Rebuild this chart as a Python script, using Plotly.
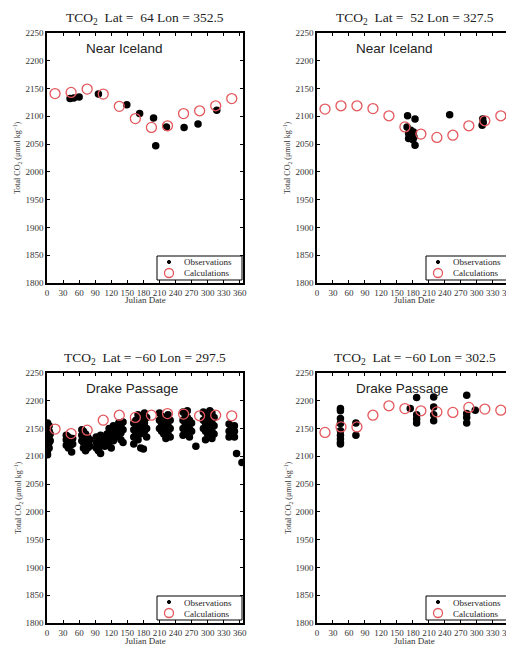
import plotly.graph_objects as go

W, H = 514, 645

# ---------------- data ----------------
calc_days = [15, 45, 75, 105, 135, 165, 195, 225, 255, 285, 315, 345]

# Panel 1: Lat 64 Lon 352.5 (Near Iceland)
calc_p1 = [2141, 2143, 2149, 2140, 2118, 2096, 2080, 2083, 2105, 2110, 2119, 2132]
obs_days_p1 = [43, 50, 60, 96, 149, 173, 199, 203, 223, 256, 282, 317]
obs_p1 = [2132, 2133, 2135, 2140, 2121, 2105, 2097, 2047, 2081, 2080, 2086, 2111]

# Panel 2: Lat 52 Lon 327.5 (Near Iceland)
calc_p2 = [2113, 2119, 2119, 2114, 2101, 2081, 2068, 2062, 2066, 2083, 2092, 2101]
obs_days_p2 = [170, 184, 169, 172, 172, 176, 181, 182, 184, 178, 180, 249, 311, 310, 312]
obs_p2 = [2101, 2095, 2081, 2069, 2060, 2075, 2072, 2063, 2048, 2066, 2058, 2103, 2095, 2084, 2089]

# Panel 3: Lat -60 Lon 297.5 (Drake Passage)
calc_p3 = [2149, 2141, 2147, 2165, 2174, 2170, 2174, 2177, 2176, 2173, 2174, 2173]
obs_days_p3 = [
    1, 1, 1, 1, 1, 1, 1, 4, 4, 4, 4, 4, 6, 6,
    36, 36, 36, 40, 40, 40, 44, 44, 46, 48, 48,
    65, 65, 65, 68, 68, 68, 68, 72, 72, 72, 72, 76, 76, 76, 80, 80,
    92, 92, 92, 96, 96, 96, 100, 100, 100, 100, 104, 104, 108, 108,
    112, 112, 112, 116, 116, 116, 120, 120, 120, 124, 124, 124, 128, 128,
    134, 134, 134, 138, 138, 138, 142, 142, 142,
    162, 162, 162, 162, 166, 166, 166, 170, 170, 170, 170, 174, 174, 174, 175,
    178, 178, 180, 182, 182, 182, 186, 186, 186,
    210, 210, 210, 214, 214, 214, 218, 218, 218, 222, 222, 222, 226, 226, 226, 230, 230, 230,
    254, 254, 254, 254, 258, 258, 258, 262, 262, 262, 262, 266, 266, 266, 270, 270, 278,
    292, 292, 292, 296, 296, 296, 296, 300, 300, 300, 304, 304, 304, 308, 308, 308, 308,
    312, 312, 312,
    340, 340, 340, 344, 344, 350, 350, 350, 354, 364,
]
obs_p3 = [
    2160, 2150, 2140, 2130, 2120, 2110, 2103, 2155, 2145, 2135, 2125, 2115, 2140, 2128,
    2138, 2130, 2120, 2135, 2125, 2115, 2130, 2120, 2108, 2132, 2122,
    2148, 2138, 2128, 2145, 2135, 2125, 2115, 2140, 2130, 2120, 2110, 2135, 2125, 2115, 2130, 2118,
    2135, 2125, 2115, 2130, 2120, 2110, 2138, 2128, 2118, 2105, 2132, 2122, 2128, 2118,
    2140, 2130, 2120, 2150, 2135, 2125, 2145, 2132, 2115, 2155, 2140, 2128, 2148, 2135,
    2160, 2150, 2138, 2155, 2142, 2130, 2162, 2148, 2125,
    2160, 2148, 2135, 2122, 2165, 2150, 2140, 2175, 2160, 2145, 2130, 2170, 2155, 2140, 2115,
    2165, 2150, 2113, 2178, 2160, 2145, 2170, 2150, 2135,
    2178, 2165, 2150, 2172, 2158, 2145, 2168, 2152, 2140, 2160, 2145, 2132, 2175, 2155, 2140, 2165, 2150, 2135,
    2180, 2165, 2150, 2138, 2175, 2160, 2145, 2182, 2170, 2155, 2140, 2165, 2150, 2135, 2160, 2145, 2118,
    2180, 2165, 2150, 2175, 2160, 2145, 2130, 2170, 2155, 2140, 2182, 2165, 2150, 2178, 2160, 2145, 2132,
    2170, 2155, 2140,
    2158, 2145, 2135, 2150, 2140, 2155, 2145, 2135, 2105, 2089,
]

# Panel 4: Lat -60 Lon 302.5 (Drake Passage)
calc_p4 = [2143, 2153, 2153, 2174, 2191, 2186, 2182, 2180, 2179, 2188, 2185, 2183]
obs_days_p4 = [44, 44, 44, 44, 44, 44, 44, 44, 44, 73, 73,
               175, 187, 187, 187, 187, 219, 219, 219, 219, 281, 281, 281, 281, 297]
obs_p4 = [2186, 2182, 2168, 2159, 2146, 2138, 2131, 2125, 2122, 2160, 2138,
          2186, 2206, 2175, 2167, 2160, 2207, 2189, 2175, 2164, 2210, 2177, 2170, 2160, 2183]

titles = [
    "TCO<sub>2</sub>\u00a0\u00a0Lat =\u00a0\u00a064 Lon = 352.5",
    "TCO<sub>2</sub>\u00a0\u00a0Lat =\u00a0\u00a052 Lon = 327.5",
    "TCO<sub>2</sub>\u00a0\u00a0Lat = \u221260 Lon = 297.5",
    "TCO<sub>2</sub>\u00a0\u00a0Lat = \u221260 Lon = 302.5",
]
region_labels = ["Near Iceland", "Near Iceland", "Drake Passage", "Drake Passage"]
legend_labels = ["Observations", "Calculations"]
x_ticks = list(range(0, 361, 30))
y_ticks = list(range(1800, 2251, 50))

panels = [
    (obs_days_p1, obs_p1, calc_p1),
    (obs_days_p2, obs_p2, calc_p2),
    (obs_days_p3, obs_p3, calc_p3),
    (obs_days_p4, obs_p4, calc_p4),
]

# ---------------- layout geometry (pixels in the window) ----------------
boxes = [  # left, right, top, bottom
    (47, 243, 33, 283),
    (317, 512, 33, 283),
    (47, 243, 373, 623),
    (317, 512, 373, 623),
]
OFF = 8  # page body margin


def px(x):
    return (x - OFF) / W


def py(y):
    return 1 - (y - OFF) / H


SERIF = "Liberation Serif, Times New Roman, serif"
SANS = "Liberation Sans, Arial, sans-serif"
RED = "#e4575c"

fig = go.Figure()
layout = dict(width=W, height=H, margin=dict(l=0, r=0, t=0, b=0),
              paper_bgcolor="white", plot_bgcolor="white", showlegend=False)
annotations = []
shapes = []


def ann(text, x, y, size, family=SERIF, xanchor="center", angle=0, color="#222"):
    annotations.append(dict(text=text, x=px(x), y=py(y), xref="paper", yref="paper",
                            xanchor=xanchor, yanchor="middle", textangle=angle,
                            showarrow=False, font=dict(family=family, size=size, color=color)))


for i, ((od, ov, cv), (l, r, t, b)) in enumerate(zip(panels, boxes)):
    n = "" if i == 0 else str(i + 1)
    xa, ya = "x" + n, "y" + n
    fig.add_trace(go.Scatter(x=od, y=ov, mode="markers", xaxis=xa, yaxis=ya,
                             name=legend_labels[0],
                             marker=dict(color="black", size=7.5), hoverinfo="skip"))
    fig.add_trace(go.Scatter(x=calc_days, y=cv, mode="markers", xaxis=xa, yaxis=ya,
                             name=legend_labels[1],
                             marker=dict(symbol="circle-open", color=RED, size=10,
                                         line=dict(width=1.3, color=RED)),
                             hoverinfo="skip"))
    axis_common = dict(showline=True, linecolor="black", linewidth=1.5, mirror="ticks",
                       ticks="inside", ticklen=3, tickwidth=1, tickcolor="black",
                       showgrid=False, zeroline=False, automargin=False, tickangle=0,
                       tickfont=dict(family=SERIF, size=9, color="#333"))
    layout["xaxis" + n] = dict(axis_common, domain=[px(l), px(r)], range=[0, 366],
                               tickvals=x_ticks, anchor=ya)
    layout["yaxis" + n] = dict(axis_common, domain=[py(b), py(t)], range=[1800, 2250],
                               tickvals=y_ticks, anchor=xa)
    cx = (l + r) / 2
    ann(titles[i], cx, t - 15, 13.5)
    ann(region_labels[i], l + 37, t + 15, 13.5, family=SANS, xanchor="left")
    ann("Julian Date", cx, b + 17.5, 9, color="#333")
    ann("Total CO<sub>2</sub> (\u03bcmol kg<sup>\u22121</sup>)", l - 29, (t + b) / 2, 8,
        angle=-90, color="#333")
    # legend box
    lx0, lx1, ly0, ly1 = r - 86, r - 1, b - 27, b - 3
    shapes.append(dict(type="rect", xref="paper", yref="paper",
                       x0=px(lx0), x1=px(lx1), y0=py(ly1), y1=py(ly0),
                       line=dict(color="black", width=1), fillcolor="white", layer="above"))
    sx = r - 74
    shapes.append(dict(type="circle", xref="paper", yref="paper",
                       x0=px(sx - 1.6), x1=px(sx + 1.6), y0=py(b - 19.4), y1=py(b - 22.6),
                       line=dict(color="black", width=1), fillcolor="black", layer="above"))
    shapes.append(dict(type="circle", xref="paper", yref="paper",
                       x0=px(sx - 4.5), x1=px(sx + 4.5), y0=py(b - 5.5), y1=py(b - 14.5),
                       line=dict(color=RED, width=1.3), fillcolor="rgba(0,0,0,0)", layer="above"))
    ann(legend_labels[0], r - 61, b - 20.5, 9, xanchor="left")
    ann(legend_labels[1], r - 61, b - 9.5, 9, xanchor="left")

layout["annotations"] = annotations
layout["shapes"] = shapes
fig.update_layout(**layout)
fig.write_html("out.html")
